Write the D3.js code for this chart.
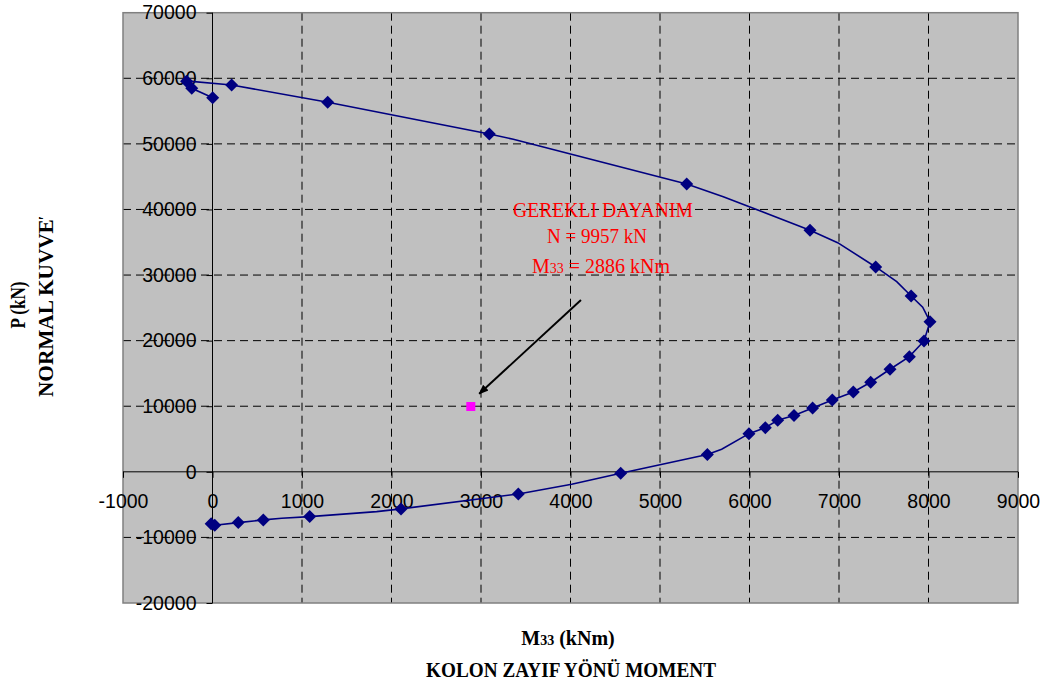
<!DOCTYPE html>
<html>
<head>
<meta charset="utf-8">
<script src="https://cdn.jsdelivr.net/npm/d3@7"></script>
<style>
  html, body { margin: 0; padding: 0; background: #fff; }
  svg { display: block; }
</style>
</head>
<body>
<svg id="chart" width="1045" height="687"></svg>
<script>
// ---- data ----
const xTicks = [-1000, 0, 1000, 2000, 3000, 4000, 5000, 6000, 7000, 8000, 9000];
const yTicks = [-20000, -10000, 0, 10000, 20000, 30000, 40000, 50000, 60000, 70000];

// interaction curve markers (M33 kNm, P kN), in drawing order
const markerM = [-15, 25, 288, 568, 1086, 2106, 3417, 4561, 5529, 5994, 6177, 6315, 6497, 6705, 6925, 7160, 7354, 7570, 7786, 7950, 8017, 7806, 7410, 6676, 5298, 3093, 1287, 214, -290, -232, 2];
const markerP = [-7900, -8150, -7744, -7332, -6829, -5655, -3369, -213, 2650, 5823, 6738, 7865, 8570, 9741, 10960, 12180, 13658, 15640, 17561, 19954, 22896, 26814, 31235, 36830, 43887, 51509, 56341, 58979, 59550, 58475, 57040];

// polyline vertices of the curve (markers plus the bends visible in the line)
const lineM = [-15, 25, 288, 568, 773, 1086, 1834, 2106, 3417, 4013, 4561, 5529, 5689, 5994, 6177, 6315, 6497, 6705, 6925, 7160, 7354, 7570, 7786, 7950, 8017, 7935, 7806, 7645, 7410, 6985, 6676, 5707, 5298, 3361, 3093, 1287, 214, -330, -290, -232, 2];
const lineP = [-7900, -8150, -7744, -7332, -7073, -6829, -6067, -5655, -3369, -1890, -213, 2650, 3445, 5823, 6738, 7865, 8570, 9741, 10960, 12180, 13658, 15640, 17561, 19954, 22896, 25090, 26814, 28994, 31235, 34940, 36830, 41950, 43887, 50700, 51509, 56341, 58979, 59650, 59550, 58475, 57040];

// required strength point
const reqM = [2886];
const reqP = [9957];
// annotation arrow (data units): start, end
const arrowM = [4117, 2980];
const arrowP = [26200, 11900];
const annotLines = ["GEREKLI DAYANIM", "N = 9957 kN", "2886"];

// ---- drawing ----
const svg = d3.select("#chart");
const x = d3.scaleLinear().domain([-1000, 9000]).range([123, 1018]);
const y = d3.scaleLinear().domain([-20000, 70000]).range([603, 12.7]);
const [x0, x1] = x.range();
const [y0, y1] = y.range();
const fmt = d => String(d);

// plot background
svg.append("rect")
  .attr("x", x0).attr("y", y1)
  .attr("width", x1 - x0).attr("height", y0 - y1)
  .attr("fill", "#C0C0C0");

// dashed grid
const g = svg.append("g");
g.selectAll("line.vg").data(xTicks.filter(d => d !== 0 && d !== -1000 && d !== 9000))
  .join("line")
  .attr("x1", d => x(d)).attr("x2", d => x(d))
  .attr("y1", y1).attr("y2", y0)
  .attr("stroke", "#000").attr("stroke-width", 1)
  .attr("stroke-dasharray", "8,5");
g.selectAll("line.hg").data(yTicks.filter(d => d !== 0 && d !== -20000 && d !== 70000))
  .join("line")
  .attr("y1", d => y(d)).attr("y2", d => y(d))
  .attr("x1", x0).attr("x2", x1)
  .attr("stroke", "#000").attr("stroke-width", 1)
  .attr("stroke-dasharray", "8,5");

// plot border
svg.append("rect")
  .attr("x", x0).attr("y", y1)
  .attr("width", x1 - x0).attr("height", y0 - y1)
  .attr("fill", "none").attr("stroke", "#808080").attr("stroke-width", 1.5);

// axes crossing at 0
const fontAxis = "'Liberation Sans', Arial, sans-serif";
const yAxis = svg.append("g")
  .attr("transform", `translate(${x(0)},0)`)
  .call(d3.axisLeft(y).tickValues(yTicks).tickSize(6).tickPadding(10).tickFormat(fmt));
yAxis.select(".domain").remove();
yAxis.selectAll("text").attr("font-family", fontAxis).attr("font-size", 19.5).attr("fill", "#000");
yAxis.selectAll("line").attr("stroke", "#000");

const xAxis = svg.append("g")
  .attr("transform", `translate(0,${y(0)})`)
  .call(d3.axisBottom(x).tickValues(xTicks).tickSize(6).tickPadding(16).tickFormat(fmt));
xAxis.select(".domain").remove();
xAxis.selectAll("text").attr("font-family", fontAxis).attr("font-size", 19.5).attr("fill", "#000");
xAxis.selectAll("line").attr("stroke", "#000");

svg.append("line")
  .attr("x1", x0).attr("x2", x1).attr("y1", y(0)).attr("y2", y(0))
  .attr("stroke", "#000").attr("stroke-width", 1);
svg.append("line")
  .attr("x1", x(0)).attr("x2", x(0)).attr("y1", y1).attr("y2", y0)
  .attr("stroke", "#000").attr("stroke-width", 1);

// curve
const lineData = lineM.map((m, i) => [m, lineP[i]]);
svg.append("path")
  .datum(lineData)
  .attr("fill", "none")
  .attr("stroke", "#000080")
  .attr("stroke-width", 1.6)
  .attr("d", d3.line().x(d => x(d[0])).y(d => y(d[1])));

const markerData = markerM.map((m, i) => [m, markerP[i]]);
svg.selectAll("path.mk").data(markerData).join("path")
  .attr("class", "mk")
  .attr("transform", d => `translate(${x(d[0])},${y(d[1])})`)
  .attr("d", "M0,-6.5L6.5,0L0,6.5L-6.5,0Z")
  .attr("fill", "#000080");

// required strength point
svg.selectAll("rect.req").data(reqM.map((m, i) => [m, reqP[i]])).join("rect")
  .attr("class", "req")
  .attr("x", d => x(d[0]) - 4.5).attr("y", d => y(d[1]) - 4.5)
  .attr("width", 9).attr("height", 9)
  .attr("fill", "#FF00FF");

// arrow
const defs = svg.append("defs");
defs.append("marker")
  .attr("id", "ah").attr("viewBox", "0 0 10 10")
  .attr("refX", 9).attr("refY", 5)
  .attr("markerWidth", 5).attr("markerHeight", 5)
  .attr("markerUnits", "strokeWidth")
  .attr("orient", "auto")
  .append("path").attr("d", "M0,1L10,5L0,9Z").attr("fill", "#000");
svg.append("line")
  .attr("x1", x(arrowM[0])).attr("y1", y(arrowP[0]))
  .attr("x2", x(arrowM[1])).attr("y2", y(arrowP[1]))
  .attr("stroke", "#000").attr("stroke-width", 2)
  .attr("marker-end", "url(#ah)");

// annotation text
const serif = "'Liberation Serif', 'Times New Roman', serif";
svg.append("text").attr("x", 603).attr("y", 217)
  .attr("text-anchor", "middle").attr("font-family", serif).attr("font-size", 20)
  .attr("fill", "#FF0000").attr("textLength", 180).attr("lengthAdjust", "spacingAndGlyphs")
  .text(annotLines[0]);
svg.append("text").attr("x", 597).attr("y", 243.3)
  .attr("text-anchor", "middle").attr("font-family", serif).attr("font-size", 20)
  .attr("fill", "#FF0000").attr("textLength", 100).attr("lengthAdjust", "spacingAndGlyphs")
  .text(annotLines[1]);
const t3 = svg.append("text").attr("x", 601).attr("y", 272.7)
  .attr("text-anchor", "middle").attr("font-family", serif).attr("font-size", 20)
  .attr("fill", "#FF0000");
t3.append("tspan").text("M");
t3.append("tspan").attr("font-size", 14).text("33");
t3.append("tspan").text(" = " + annotLines[2] + " kNm");

// axis titles
const xt1 = svg.append("text").attr("x", 568).attr("y", 645)
  .attr("text-anchor", "middle").attr("font-family", serif).attr("font-size", 20)
  .attr("font-weight", "bold").attr("fill", "#000");
xt1.append("tspan").text("M");
xt1.append("tspan").attr("font-size", 14).text("33");
xt1.append("tspan").text(" (kNm)");
svg.append("text").attr("x", 571).attr("y", 676.5)
  .attr("text-anchor", "middle").attr("font-family", serif).attr("font-size", 21)
  .attr("font-weight", "bold").attr("fill", "#000")
  .attr("textLength", 290).attr("lengthAdjust", "spacingAndGlyphs")
  .text("KOLON ZAYIF YÖNÜ MOMENT");

defs.append("clipPath").attr("id", "ytclip")
  .append("rect").attr("x", 0).attr("y", 217).attr("width", 120).attr("height", 400);
svg.append("text")
  .attr("transform", "translate(25,305) rotate(-90)")
  .attr("text-anchor", "middle").attr("font-family", serif).attr("font-size", 20)
  .attr("font-weight", "bold").attr("fill", "#000")
  .attr("textLength", 47).attr("lengthAdjust", "spacingAndGlyphs")
  .text("P (kN)");
svg.append("g").attr("clip-path", "url(#ytclip)")
  .append("text")
  .attr("transform", "translate(53,301) rotate(-90)")
  .attr("text-anchor", "middle").attr("font-family", serif).attr("font-size", 21)
  .attr("font-weight", "bold").attr("fill", "#000")
  .attr("textLength", 192).attr("lengthAdjust", "spacingAndGlyphs")
  .text("NORMAL KUVVET");
</script>
</body>
</html>
